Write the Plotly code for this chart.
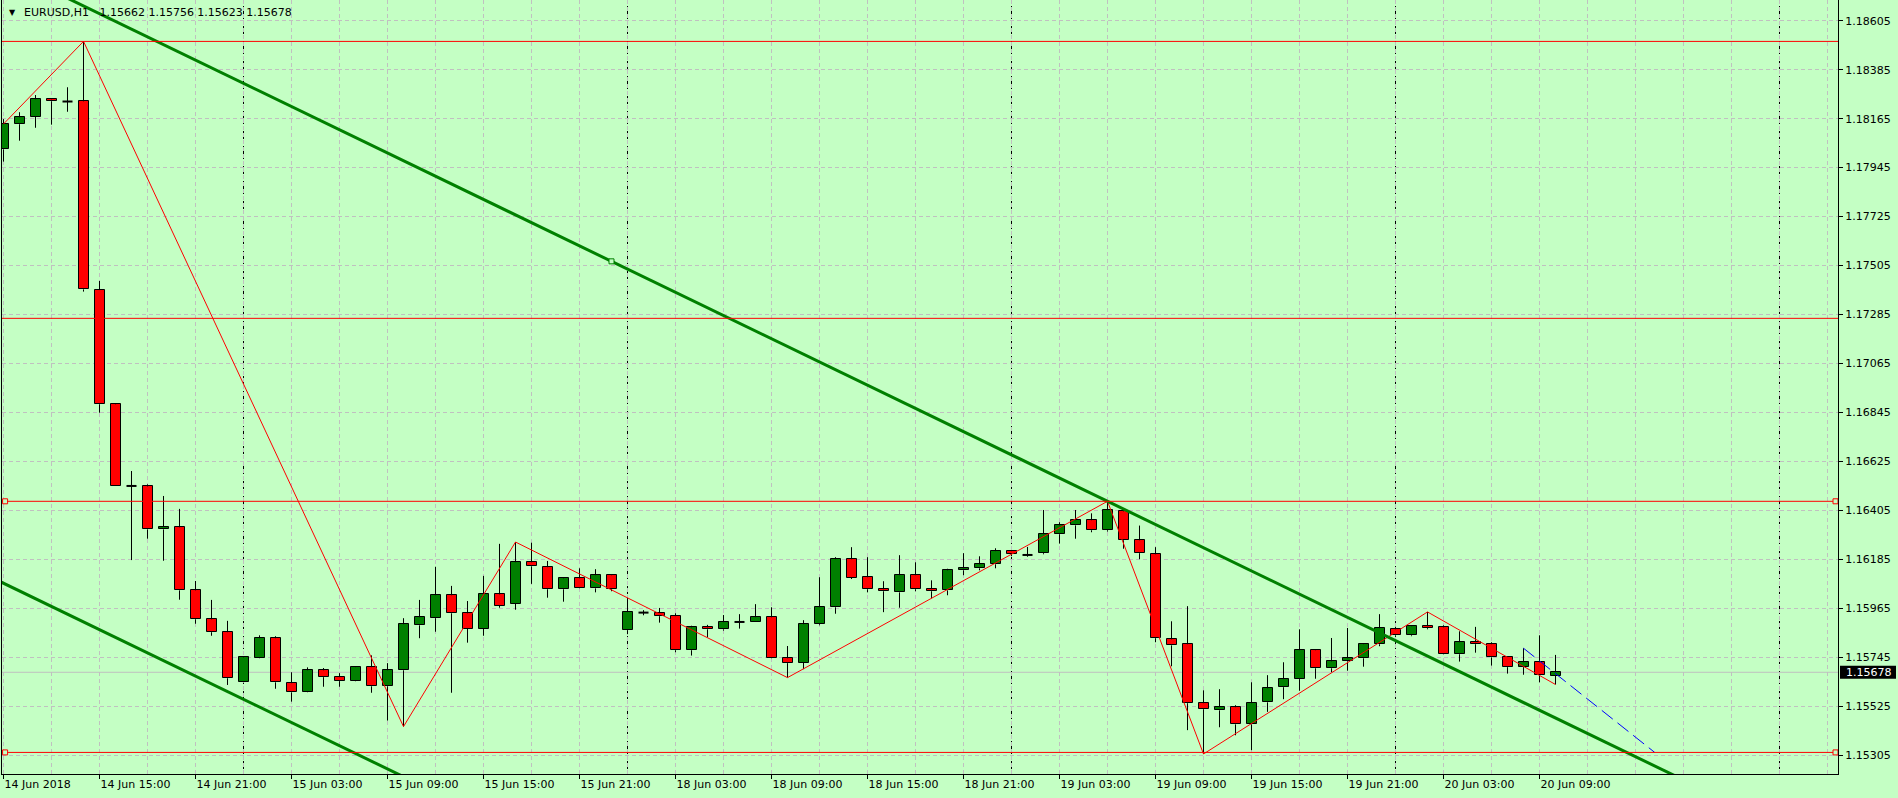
import plotly.graph_objects as go

# ---------------- data (EURUSD H1, bar 0 = 14 Jun 2018 09:00) ----------------
opens = [1.18027, 1.18140, 1.18174, 1.18252, 1.18242, 1.18243, 1.17395, 1.16882, 1.16515, 1.16513,
         1.16320, 1.16329, 1.16046, 1.15916, 1.15858, 1.15633, 1.15741, 1.15831, 1.15629, 1.15588,
         1.15687, 1.15656, 1.15638, 1.15701, 1.15615, 1.15687, 1.15889, 1.15921, 1.16024, 1.15943,
         1.15874, 1.16028, 1.15986, 1.16172, 1.16150, 1.16051, 1.16100, 1.16055, 1.16114, 1.15867,
         1.15946, 1.15943, 1.15930, 1.15777, 1.15880, 1.15871, 1.15904, 1.15905, 1.15925, 1.15741,
         1.15721, 1.15894, 1.15970, 1.16186, 1.16105, 1.16051, 1.16037, 1.16114, 1.16051, 1.16046,
         1.16136, 1.16145, 1.16163, 1.16222, 1.16205, 1.16213, 1.16298, 1.16338, 1.16361, 1.16316,
         1.16401, 1.16271, 1.16208, 1.15826, 1.15804, 1.15539, 1.15507, 1.15521, 1.15444, 1.15543,
         1.15611, 1.15647, 1.15777, 1.15696, 1.15727, 1.15741, 1.15804, 1.15871, 1.15844, 1.15885,
         1.15880, 1.15759, 1.15813, 1.15804, 1.15745, 1.15701, 1.15723, 1.15662]
highs = [1.18163, 1.18194, 1.18271, 1.18255, 1.18306, 1.18512, 1.17436, 1.16885, 1.16582, 1.16522,
         1.16470, 1.16412, 1.16088, 1.16003, 1.15909, 1.15747, 1.15844, 1.15840, 1.15678, 1.15700,
         1.15697, 1.15674, 1.15702, 1.15754, 1.15719, 1.15921, 1.16003, 1.16152, 1.16066, 1.15998,
         1.16111, 1.16255, 1.16263, 1.16260, 1.16178, 1.16105, 1.16145, 1.16141, 1.16115, 1.16012,
         1.15957, 1.15967, 1.15943, 1.15887, 1.15891, 1.15935, 1.15939, 1.15984, 1.15970, 1.15796,
         1.15912, 1.16105, 1.16195, 1.16240, 1.16195, 1.16087, 1.16204, 1.16172, 1.16091, 1.16143,
         1.16213, 1.16199, 1.16235, 1.16223, 1.16241, 1.16407, 1.16352, 1.16407, 1.16392, 1.16446,
         1.16408, 1.16337, 1.16240, 1.15907, 1.15975, 1.15597, 1.15602, 1.15530, 1.15633, 1.15665,
         1.15723, 1.15871, 1.15778, 1.15832, 1.15877, 1.15808, 1.15939, 1.15882, 1.15889, 1.15949,
         1.15889, 1.15862, 1.15882, 1.15813, 1.15747, 1.15786, 1.15844, 1.15756]
lows = [1.17972, 1.18066, 1.18124, 1.18138, 1.18196, 1.17388, 1.16844, 1.16515, 1.16182, 1.16278,
        1.16179, 1.16004, 1.15896, 1.15842, 1.15621, 1.15632, 1.15740, 1.15604, 1.15546, 1.15587,
        1.15613, 1.15613, 1.15637, 1.15586, 1.15461, 1.15434, 1.15831, 1.15860, 1.15586, 1.15811,
        1.15842, 1.15968, 1.15959, 1.16075, 1.16013, 1.15995, 1.16054, 1.16037, 1.16042, 1.15849,
        1.15934, 1.15901, 1.15768, 1.15753, 1.15835, 1.15865, 1.15874, 1.15905, 1.15740, 1.15654,
        1.15692, 1.15889, 1.15941, 1.16097, 1.16037, 1.15948, 1.15968, 1.16042, 1.16010, 1.16024,
        1.16114, 1.16136, 1.16145, 1.16200, 1.16197, 1.16208, 1.16256, 1.16278, 1.16307, 1.16310,
        1.16233, 1.16186, 1.15813, 1.15705, 1.15418, 1.15311, 1.15431, 1.15395, 1.15328, 1.15500,
        1.15557, 1.15595, 1.15649, 1.15678, 1.15685, 1.15703, 1.15795, 1.15837, 1.15840, 1.15871,
        1.15758, 1.15726, 1.15766, 1.15708, 1.15672, 1.15667, 1.15633, 1.15623]
closes = [1.18140, 1.18171, 1.18252, 1.18243, 1.18242, 1.17398, 1.16882, 1.16516, 1.16515, 1.16320,
          1.16332, 1.16046, 1.15916, 1.15858, 1.15651, 1.15745, 1.15831, 1.15633, 1.15588, 1.15687,
          1.15656, 1.15638, 1.15701, 1.15615, 1.15687, 1.15894, 1.15925, 1.16024, 1.15943, 1.15874,
          1.16028, 1.15977, 1.16172, 1.16154, 1.16051, 1.16100, 1.16055, 1.16114, 1.16051, 1.15948,
          1.15946, 1.15930, 1.15777, 1.15880, 1.15871, 1.15903, 1.15904, 1.15925, 1.15741, 1.15719,
          1.15894, 1.15970, 1.16186, 1.16103, 1.16051, 1.16042, 1.16114, 1.16051, 1.16042, 1.16136,
          1.16145, 1.16163, 1.16222, 1.16208, 1.16205, 1.16298, 1.16338, 1.16361, 1.16316, 1.16406,
          1.16271, 1.16213, 1.15831, 1.15799, 1.15539, 1.15512, 1.15521, 1.15444, 1.15539, 1.15606,
          1.15647, 1.15777, 1.15696, 1.15727, 1.15741, 1.15804, 1.15876, 1.15844, 1.15885, 1.15876,
          1.15759, 1.15813, 1.15804, 1.15745, 1.15701, 1.15723, 1.15665, 1.15678]

# x-axis labels (every 6 bars)
label_bars = [0, 6, 12, 18, 24, 30, 36, 42, 48, 54, 60, 66, 72, 78, 84, 90, 96]
label_text = ["14 Jun 2018", "14 Jun 15:00", "14 Jun 21:00", "15 Jun 03:00", "15 Jun 09:00",
              "15 Jun 15:00", "15 Jun 21:00", "18 Jun 03:00", "18 Jun 09:00", "18 Jun 15:00",
              "18 Jun 21:00", "19 Jun 03:00", "19 Jun 09:00", "19 Jun 15:00", "19 Jun 21:00",
              "20 Jun 03:00", "20 Jun 09:00"]
price_ticks = [1.15305, 1.15525, 1.15745, 1.15965, 1.16185, 1.16405, 1.16625, 1.16845,
               1.17065, 1.17285, 1.17505, 1.17725, 1.17945, 1.18165, 1.18385, 1.18605]
price_tick_text = ["%.5f" % v for v in price_ticks]

# day separators (00:00 bars)
day_sep_bars = [15, 39, 63, 87, 111]

# ZigZag vertices
zz_bars = [0, 5, 25, 32, 49, 69, 75, 89, 97]
zz_prices = [1.18141, 1.18512, 1.15434, 1.16263, 1.15654, 1.16446, 1.15311, 1.15949, 1.15623]

# horizontal levels
levels = [1.18512, 1.17268, 1.16446, 1.15318]
selected_levels = [1.16446, 1.15318]

# channel (two parallel trend lines)
chan_upper_bars = [-5, 120]
chan_upper_prices = [1.19019, 1.14673]
chan_lower_bars = [-5, 120]
chan_lower_prices = [1.16252, 1.11906]
chan_anchor_bar = [38]
chan_anchor_price = [1.17524]

# blue dashed line
blue_bars = [95, 103.2]
blue_prices = [1.15786, 1.15318]

current_price = 1.15678
title_text = "EURUSD,H1\u00a0\u00a0 1.15662 1.15756 1.15623 1.15678"

# ---------------- styles ----------------
BG = "#C4FFC4"
GRID = "#C0C0C0"
UP = "#008000"
DN = "#FF0000"
FONT = "DejaVu Sans"
W, H = 1898, 798
ML, MR, MT, MB = 2, 60, 0, 24
XR = [-0.09375, -0.09375 + (W - ML - MR) / 16.0]
YR = [1.15221, 1.18698]
BODY_W = 0.625

fig = go.Figure()

n = len(opens)
xs = list(range(n))

# wicks (above and below body)
wx, wy = [], []
for i in xs:
    top = max(opens[i], closes[i])
    bot = min(opens[i], closes[i])
    if highs[i] > top:
        wx += [i, i, None]; wy += [top, highs[i], None]
    if lows[i] < bot:
        wx += [i, i, None]; wy += [bot, lows[i], None]
fig.add_trace(go.Scatter(x=wx, y=wy, mode="lines", line=dict(color="black", width=1),
                         hoverinfo="skip", showlegend=False))

# bodies
bx, bbase, bh, bcol = [], [], [], []
dx, dy = [], []
for i in xs:
    if opens[i] == closes[i]:
        dx += [i - BODY_W / 2, i + BODY_W / 2, None]; dy += [opens[i], opens[i], None]
        continue
    bx.append(i)
    bbase.append(min(opens[i], closes[i]))
    bh.append(abs(closes[i] - opens[i]))
    bcol.append(UP if closes[i] > opens[i] else DN)
fig.add_trace(go.Bar(x=bx, y=bh, base=bbase, width=BODY_W,
                     marker=dict(color=bcol, line=dict(color="black", width=1)),
                     hoverinfo="skip", showlegend=False))
fig.add_trace(go.Scatter(x=dx, y=dy, mode="lines", line=dict(color="black", width=2),
                         hoverinfo="skip", showlegend=False))

# zigzag
fig.add_trace(go.Scatter(x=zz_bars, y=zz_prices, mode="lines", line=dict(color="#FF0000", width=1),
                         hoverinfo="skip", showlegend=False))

# channel lines
fig.add_trace(go.Scatter(x=chan_upper_bars, y=chan_upper_prices, mode="lines",
                         line=dict(color=UP, width=3), hoverinfo="skip", showlegend=False))
fig.add_trace(go.Scatter(x=chan_lower_bars, y=chan_lower_prices, mode="lines",
                         line=dict(color=UP, width=3), hoverinfo="skip", showlegend=False))
fig.add_trace(go.Scatter(x=chan_anchor_bar, y=chan_anchor_price, mode="markers",
                         marker=dict(symbol="square", size=5, color=BG, line=dict(color=UP, width=1)),
                         hoverinfo="skip", showlegend=False))

# blue dashed
fig.add_trace(go.Scatter(x=blue_bars, y=blue_prices, mode="lines",
                         line=dict(color="#0000FF", width=1, dash="14px,6px"),
                         hoverinfo="skip", showlegend=False))

# horizontal red levels
for lv in levels:
    fig.add_trace(go.Scatter(x=[XR[0], XR[1]], y=[lv, lv], mode="lines",
                             line=dict(color="#FF0000", width=1), hoverinfo="skip", showlegend=False))
sq_x, sq_y = [], []
for lv in selected_levels:
    sq_x += [0.1, 114.5]; sq_y += [lv, lv]
fig.add_trace(go.Scatter(x=sq_x, y=sq_y, mode="markers",
                         marker=dict(symbol="square", size=5, color=BG, line=dict(color="#FF0000", width=1)),
                         hoverinfo="skip", showlegend=False, cliponaxis=False))

shapes = []
# current price line
shapes.append(dict(type="line", xref="paper", x0=0, x1=1, yref="y", y0=current_price, y1=current_price,
                   line=dict(color=GRID, width=1), layer="between"))
# day separators
for b in day_sep_bars:
    shapes.append(dict(type="line", xref="x", x0=b, x1=b, yref="paper", y0=0, y1=1,
                       line=dict(color="black", width=1, dash="3px,2px"), layer="between"))
# price label box
plot_h = H - MT - MB
px_price = (YR[1] - YR[0]) / plot_h
shapes.append(dict(type="rect", xref="paper", x0=1 + 2.0 / (W - ML - MR), x1=1 + 58.0 / (W - ML - MR),
                   yref="y", y0=current_price - 6.5 * px_price, y1=current_price + 6.5 * px_price,
                   fillcolor="black", line=dict(width=0), layer="above"))

annotations = [
    dict(text=title_text, xref="paper", yref="paper", x=20.0 / (W - ML - MR), y=1 - 12.5 / plot_h,
         xanchor="left", yanchor="middle", showarrow=False, font=dict(family=FONT, size=11, color="black")),
    dict(text="\u25BC", xref="paper", yref="paper", x=10.0 / (W - ML - MR), y=1 - 12.5 / plot_h,
         xanchor="center", yanchor="middle", showarrow=False, font=dict(family=FONT, size=8, color="black")),
    dict(text="%.5f" % current_price, xref="paper", yref="y", x=1, y=current_price, xanchor="left",
         xshift=6, yanchor="middle", showarrow=False, font=dict(family=FONT, size=11, color="white")),
]

fig.update_layout(
    width=W, height=H, margin=dict(l=ML, r=MR, t=MT, b=MB, pad=0),
    paper_bgcolor=BG, plot_bgcolor=BG, bargap=0, showlegend=False,
    shapes=shapes, annotations=annotations,
    font=dict(family=FONT, size=11, color="black"),
    xaxis=dict(range=XR, showgrid=True, gridcolor=GRID, griddash="4px,3px", gridwidth=1,
               tickmode="array", tickvals=label_bars, ticktext=label_text,
               ticks="outside", ticklen=4, tickcolor="black", tickwidth=1,
               ticklabelposition="outside right",
               showline=True, linecolor="black", linewidth=1, mirror=False, zeroline=False,
               minor=dict(dtick=3, tick0=0, showgrid=True, gridcolor=GRID, griddash="4px,3px", ticks=""),
               tickfont=dict(family=FONT, size=11, color="black"), fixedrange=True),
    yaxis=dict(range=YR, side="right", showgrid=True, gridcolor=GRID, griddash="4px,3px", gridwidth=1,
               tickmode="array", tickvals=price_ticks, ticktext=price_tick_text,
               ticks="outside", ticklen=4, tickcolor="black", tickwidth=1,
               showline=True, linecolor="black", linewidth=1, mirror=True, zeroline=False,
               tickfont=dict(family=FONT, size=11, color="black"), fixedrange=True),
)

fig.write_html("out.html", config={"displayModeBar": False},
               post_script="document.body.style.margin='0';document.body.style.overflow='hidden';"
                           "document.body.style.background='" + BG + "';")
